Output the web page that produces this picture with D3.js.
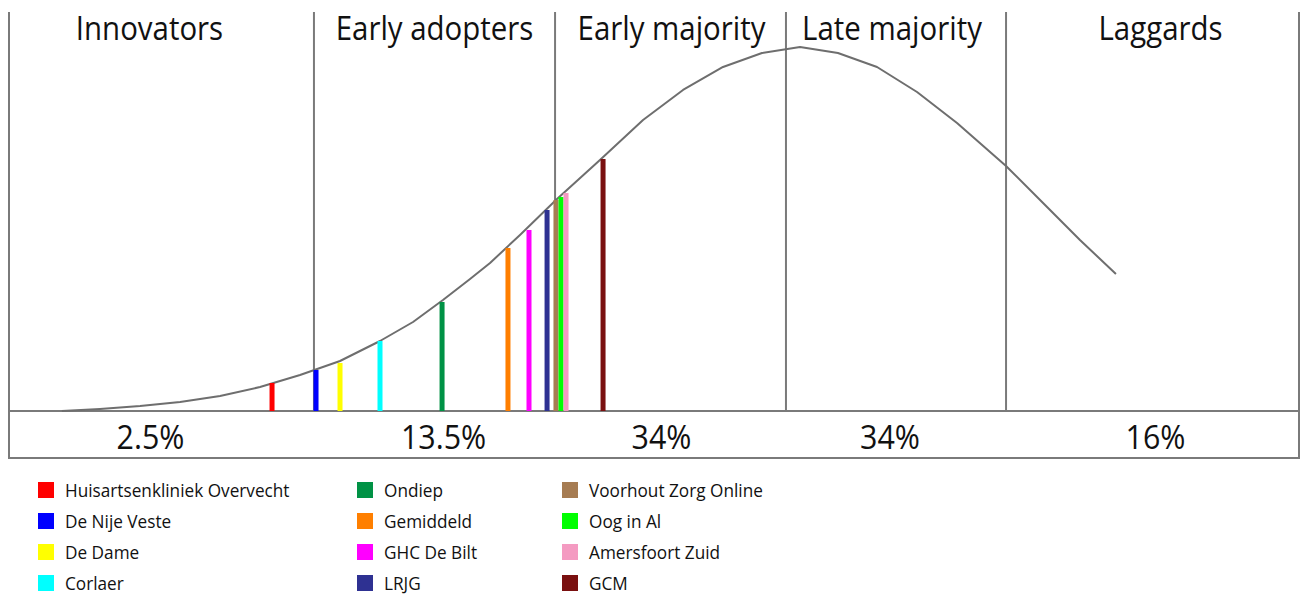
<!DOCTYPE html>
<html>
<head>
<meta charset="utf-8">
<script src="https://cdn.jsdelivr.net/npm/d3@7"></script>
<style>
  html, body { margin: 0; padding: 0; background: #fff; }
  svg { display: block; font-family: "Open Sans", "Noto Sans", sans-serif; }
</style>
</head>
<body>
<div id="chart"></div>
<script>
// adoption stages, positions in % of the horizontal axis
var stages = ['Innovators', 'Early adopters', 'Early majority', 'Late majority', 'Laggards'];
var shares = ['2.5%', '13.5%', '34%', '34%', '16%'];
var stageBounds = [0, 23.64, 42.33, 60.23, 77.29, 100];

// bell curve (relative height, 100 = top)
var curveX = [4.1, 7.05, 10.16, 13.26, 16.36, 19.46, 22.56, 25.66, 28.76, 31.32, 33.64, 35.74, 37.29, 39.61,
  42.48, 45.81, 49.15, 52.25, 55.35, 58.37, 61.32, 64.26, 67.29, 70.39, 73.49, 77.29, 80.47, 83.02, 85.81];
var curveY = [0, 0.55, 1.37, 2.47, 4.12, 6.59, 9.89, 13.74, 19.23, 24.45, 30.49, 36.26, 40.66, 48.35,
  58.24, 68.96, 79.95, 88.19, 94.51, 98.35, 100, 98.35, 94.51, 87.64, 79.12, 67.31, 56.04, 46.98, 37.64];

// practices
var practices = ['Huisartsenkliniek Overvecht', 'De Nije Veste', 'De Dame', 'Corlaer', 'Ondiep', 'Gemiddeld',
  'GHC De Bilt', 'LRJG', 'Voorhout Zorg Online', 'Oog in Al', 'Amersfoort Zuid', 'GCM'];
var practiceX = [20.39, 23.8, 25.66, 28.76, 33.57, 38.68, 40.31, 41.71, 42.4, 42.79, 43.18, 46.05];
var practiceY = [7.69, 11.26, 13.19, 19.23, 29.95, 44.78, 49.73, 55.22, 57.97, 58.79, 59.89, 69.23];
var practiceColors = ['#ff0000', '#0000ff', '#ffff00', '#00ffff', '#009245', '#ff7f00',
  '#ff00ff', '#2e3192', '#a67c52', '#00ff00', '#f49ac1', '#7a1010'];

(function(d3){
  var W = 1308, H = 595;
  var left = 9, right = 1299, top = 12, base = 411, boxBottom = 458;
  var line = '#7a7a7a';

  var svg = d3.select('#chart')
    .append('svg')
      .attr('width', W)
      .attr('height', H);

  var x = d3.scaleLinear().domain([0, 100]).range([left, right]);
  var y = d3.scaleLinear().domain([0, 100]).range([base, 47]);

  // frame + stage dividers
  var frame = svg.append('g').attr('fill', 'none').attr('stroke', line).attr('stroke-width', 2);
  frame.selectAll('line.div')
    .data(stageBounds.slice(1, -1))
    .enter().append('line')
      .attr('class', 'div')
      .attr('x1', function(d){ return x(d); })
      .attr('x2', function(d){ return x(d); })
      .attr('y1', top)
      .attr('y2', base);
  frame.append('path')
    .attr('d', 'M' + x(0) + ',' + top + 'V' + boxBottom + 'H' + x(100) + 'V' + top);
  frame.append('line')
    .attr('x1', x(0)).attr('x2', x(100))
    .attr('y1', base).attr('y2', base);

  // curve
  var pts = curveX.map(function(d, i){ return [d, curveY[i]]; });
  svg.append('path')
    .datum(pts)
    .attr('fill', 'none')
    .attr('stroke', '#6e6e6e')
    .attr('stroke-width', 2)
    .attr('stroke-linejoin', 'round')
    .attr('d', d3.line().x(function(d){ return x(d[0]); }).y(function(d){ return y(d[1]); }));

  // practice bars
  var barW = 5;
  svg.append('g').selectAll('rect')
    .data(practices)
    .enter().append('rect')
      .attr('x', function(d, i){ return x(practiceX[i]) - barW / 2; })
      .attr('y', function(d, i){ return y(practiceY[i]); })
      .attr('width', barW)
      .attr('height', function(d, i){ return y(0) - y(practiceY[i]); })
      .attr('fill', function(d, i){ return practiceColors[i]; });

  // stage titles and shares
  var mid = function(i){ return (x(stageBounds[i]) + x(stageBounds[i + 1])) / 2; };
  var titleNudge = [-12, 0, 1, -4, 8];
  var shareNudge = [-11, 9, -9, -6, 3];

  svg.append('g').selectAll('text')
    .data(stages)
    .enter().append('text')
      .attr('transform', function(d, i){ return 'translate(' + (mid(i) + titleNudge[i]) + ',40) scale(0.92,1)'; })
      .attr('text-anchor', 'middle')
      .attr('font-size', 32)
      .attr('fill', '#111')
      .text(function(d){ return d; });

  svg.append('g').selectAll('text')
    .data(shares)
    .enter().append('text')
      .attr('transform', function(d, i){ return 'translate(' + (mid(i) + shareNudge[i]) + ',449) scale(0.95,1)'; })
      .attr('text-anchor', 'middle')
      .attr('font-size', 32)
      .attr('fill', '#111')
      .text(function(d){ return d; });

  // legend, 4 rows per column
  var colX = [38, 357, 562];
  var legend = svg.append('g').selectAll('g')
    .data(practices)
    .enter().append('g')
      .attr('transform', function(d, i){
        return 'translate(' + colX[Math.floor(i / 4)] + ',' + (482 + (i % 4) * 31) + ')';
      });
  legend.append('rect')
    .attr('width', 16)
    .attr('height', 16)
    .attr('fill', function(d, i){ return practiceColors[i]; });
  legend.append('text')
    .attr('transform', 'translate(27,15) scale(0.93,1)')
    .attr('font-size', 18.5)
    .attr('fill', '#111')
    .text(function(d){ return d; });
})(d3);
</script>
</body>
</html>
